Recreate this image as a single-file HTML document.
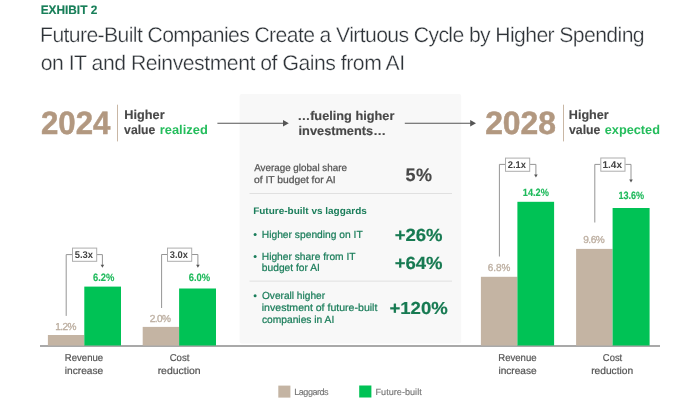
<!DOCTYPE html>
<html><head><meta charset="utf-8"><title>Exhibit 2</title>
<style>
html,body{margin:0;padding:0;background:#fff;}
body{width:700px;height:411px;overflow:hidden;}
svg{display:block;font-family:"Liberation Sans", Arial, sans-serif;text-rendering:geometricPrecision;}
</style></head>
<body>
<svg width="700" height="411" viewBox="0 0 700 411">
<rect x="239.6" y="94" width="221.6" height="249.6" fill="#f8f8f8" rx="2"/>
<line x1="117.5" y1="104.7" x2="117.5" y2="141.4" stroke="#c9b7a5" stroke-width="1"/>
<line x1="563.5" y1="104.7" x2="563.5" y2="141.4" stroke="#c9b7a5" stroke-width="1"/>
<line x1="217.4" y1="123.25" x2="283.8" y2="123.25" stroke="#555555" stroke-width="1.1"/>
<path d="M283.0,120.05 L288.8,123.25 L283.0,126.45 Z" fill="#555555"/>
<line x1="404.8" y1="123.25" x2="471" y2="123.25" stroke="#555555" stroke-width="1.1"/>
<path d="M470.2,120.05 L476,123.25 L470.2,126.45 Z" fill="#555555"/>
<line x1="249.5" y1="193.5" x2="452" y2="193.5" stroke="#e0e0e0" stroke-width="1"/>
<line x1="249.5" y1="281.1" x2="452" y2="281.1" stroke="#e0e0e0" stroke-width="1"/>
<circle cx="255.1" cy="234.6" r="1.5" fill="#1a7d5a"/>
<circle cx="255.1" cy="256.6" r="1.5" fill="#1a7d5a"/>
<circle cx="255.1" cy="295.8" r="1.5" fill="#1a7d5a"/>
<line x1="40" y1="346" x2="660" y2="346" stroke="#8c8c8c" stroke-width="1.3"/>
<rect x="47.9" y="335.0" width="36.4" height="10.5" fill="#c4b4a3"/>
<rect x="84.3" y="286.6" width="36.7" height="58.9" fill="#00c255"/>
<path d="M66.2,315.9 V254.6 H72" stroke="#959595" fill="none" stroke-width="1"/>
<path d="M97,254.6 H102.4 V265.2" stroke="#959595" fill="none" stroke-width="1"/>
<path d="M100.6,264.7 L102.4,267.7 L104.2,264.7 Z" fill="#555"/>
<rect x="72.5" y="248.1" width="24.2" height="13.2" fill="#fff" stroke="#adadad" stroke-width="1"/>
<rect x="142.7" y="326.9" width="36.4" height="18.6" fill="#c4b4a3"/>
<rect x="179.1" y="288.5" width="36.9" height="57.0" fill="#00c255"/>
<path d="M161.6,308 V254.5 H167" stroke="#959595" fill="none" stroke-width="1"/>
<path d="M192,254.5 H197.9 V265.2" stroke="#959595" fill="none" stroke-width="1"/>
<path d="M196.1,264.7 L197.9,267.7 L199.7,264.7 Z" fill="#555"/>
<rect x="167.5" y="248.1" width="24.2" height="13.2" fill="#fff" stroke="#adadad" stroke-width="1"/>
<rect x="480.9" y="276.8" width="36.5" height="68.7" fill="#c4b4a3"/>
<rect x="517.4" y="201.8" width="36.7" height="143.7" fill="#00c255"/>
<path d="M499.4,256.5 V164.4 H505" stroke="#959595" fill="none" stroke-width="1"/>
<path d="M530,164.4 H535.9 V174.9" stroke="#959595" fill="none" stroke-width="1"/>
<path d="M534.1,174.4 L535.9,177.4 L537.7,174.4 Z" fill="#555"/>
<rect x="505.5" y="158.1" width="24.2" height="13.2" fill="#fff" stroke="#adadad" stroke-width="1"/>
<rect x="576.1" y="248.9" width="36.5" height="96.6" fill="#c4b4a3"/>
<rect x="612.6" y="208.0" width="37.0" height="137.5" fill="#00c255"/>
<path d="M594.8,222.5 V164.4 H600.3" stroke="#959595" fill="none" stroke-width="1"/>
<path d="M625.3,164.4 H631.0 V179.9" stroke="#959595" fill="none" stroke-width="1"/>
<path d="M629.2,179.4 L631.0,182.4 L632.8,179.4 Z" fill="#555"/>
<rect x="600.8" y="158.0" width="24.2" height="13.2" fill="#fff" stroke="#adadad" stroke-width="1"/>
<rect x="278.3" y="385.6" width="12.1" height="12" fill="#c4b4a3"/>
<rect x="359.2" y="385.5" width="12.2" height="12" fill="#00c255"/>
<text id="exh" x="40.65" y="13.9" font-size="12.2" font-weight="700" fill="#187f59" textLength="56.63" lengthAdjust="spacingAndGlyphs" stroke="#187f59" stroke-width="0.15">EXHIBIT 2</text>
<text id="t1" x="40.06" y="41.7" font-size="21.2" font-weight="400" fill="#2e3338" textLength="604.55" lengthAdjust="spacing" stroke="#ffffff" stroke-width="0.3">Future-Built Companies Create a Virtuous Cycle by Higher Spending</text>
<text id="t2" x="40.65" y="70.0" font-size="21.2" font-weight="400" fill="#2e3338" textLength="364.46" lengthAdjust="spacing" stroke="#ffffff" stroke-width="0.3">on IT and Reinvestment of Gains from AI</text>
<text id="y24" x="40.95" y="134.05" font-size="32.4" font-weight="700" fill="#b29880" textLength="69.42" lengthAdjust="spacingAndGlyphs" stroke="#b29880" stroke-width="0.5">2024</text>
<text id="h1" x="124.35" y="119.2" font-size="12.7" font-weight="700" fill="#484848" textLength="40.26" lengthAdjust="spacingAndGlyphs" stroke="#484848" stroke-width="0.15">Higher</text>
<text id="v1" x="124.10" y="134.3" font-size="12.7" font-weight="700" fill="#484848" textLength="31.21" lengthAdjust="spacingAndGlyphs" stroke="#484848" stroke-width="0.15">value</text>
<text id="r1" x="159.75" y="134.3" font-size="12.7" font-weight="700" fill="#24bd5c" textLength="48.00" lengthAdjust="spacingAndGlyphs">realized</text>
<text id="y28" x="485.15" y="134.05" font-size="32.4" font-weight="700" fill="#b29880" textLength="70.90" lengthAdjust="spacingAndGlyphs" stroke="#b29880" stroke-width="0.5">2028</text>
<text id="h2" x="568.85" y="119.2" font-size="12.7" font-weight="700" fill="#484848" textLength="39.86" lengthAdjust="spacingAndGlyphs" stroke="#484848" stroke-width="0.15">Higher</text>
<text id="v2" x="569.00" y="134.3" font-size="12.7" font-weight="700" fill="#484848" textLength="31.41" lengthAdjust="spacingAndGlyphs" stroke="#484848" stroke-width="0.15">value</text>
<text id="e2" x="604.69" y="134.3" font-size="12.7" font-weight="700" fill="#24bd5c" textLength="55.32" lengthAdjust="spacingAndGlyphs">expected</text>
<text id="f1" x="297.40" y="119.5" font-size="12.5" font-weight="700" fill="#484848" textLength="96.96" lengthAdjust="spacingAndGlyphs" stroke="#484848" stroke-width="0.15">…fueling higher</text>
<text id="f2" x="298.55" y="134.5" font-size="12.5" font-weight="700" fill="#484848" textLength="87.40" lengthAdjust="spacingAndGlyphs" stroke="#484848" stroke-width="0.15">investments…</text>
<text id="a1" x="254.19" y="171.3" font-size="9.9" font-weight="400" fill="#555555" textLength="92.74" lengthAdjust="spacingAndGlyphs" stroke="#555555" stroke-width="0.25">Average global share</text>
<text id="a2" x="253.94" y="183.2" font-size="9.9" font-weight="400" fill="#555555" textLength="81.73" lengthAdjust="spacingAndGlyphs" stroke="#555555" stroke-width="0.25">of IT budget for AI</text>
<text id="p5" x="405.45" y="180.9" font-size="18.0" font-weight="700" fill="#484848" textLength="26.64" lengthAdjust="spacing" stroke="#484848" stroke-width="0.15">5%</text>
<text id="fb" x="253.15" y="214.0" font-size="9.6" font-weight="700" fill="#1a7d5a" textLength="113.77" lengthAdjust="spacingAndGlyphs">Future-built vs laggards</text>
<text id="b1" x="261.75" y="237.7" font-size="10.3" font-weight="400" fill="#1a7d5a" textLength="100.99" lengthAdjust="spacingAndGlyphs" stroke="#1a7d5a" stroke-width="0.22">Higher spending on IT</text>
<text id="n1" x="394.70" y="240.6" font-size="17.6" font-weight="700" fill="#177a52" textLength="47.88" lengthAdjust="spacingAndGlyphs" stroke="#177a52" stroke-width="0.2">+26%</text>
<text id="b2a" x="261.75" y="259.8" font-size="10.3" font-weight="400" fill="#1a7d5a" textLength="93.83" lengthAdjust="spacingAndGlyphs" stroke="#1a7d5a" stroke-width="0.22">Higher share from IT</text>
<text id="b2b" x="261.85" y="271.3" font-size="10.3" font-weight="400" fill="#1a7d5a" textLength="57.98" lengthAdjust="spacingAndGlyphs" stroke="#1a7d5a" stroke-width="0.22">budget for AI</text>
<text id="n2" x="394.70" y="268.5" font-size="17.6" font-weight="700" fill="#177a52" textLength="47.88" lengthAdjust="spacingAndGlyphs" stroke="#177a52" stroke-width="0.2">+64%</text>
<text id="b3a" x="261.94" y="299.0" font-size="10.3" font-weight="400" fill="#1a7d5a" textLength="63.12" lengthAdjust="spacingAndGlyphs" stroke="#1a7d5a" stroke-width="0.22">Overall higher</text>
<text id="b3b" x="261.77" y="311.4" font-size="10.3" font-weight="400" fill="#1a7d5a" textLength="115.61" lengthAdjust="spacingAndGlyphs" stroke="#1a7d5a" stroke-width="0.22">investment of future-built</text>
<text id="b3c" x="261.94" y="323.2" font-size="10.3" font-weight="400" fill="#1a7d5a" textLength="72.31" lengthAdjust="spacingAndGlyphs" stroke="#1a7d5a" stroke-width="0.22">companies in AI</text>
<text id="n3" x="389.44" y="314.4" font-size="17.4" font-weight="700" fill="#177a52" textLength="58.30" lengthAdjust="spacingAndGlyphs" stroke="#177a52" stroke-width="0.2">+120%</text>
<text id="l1t" x="55.19" y="330.4" font-size="10.1" font-weight="400" fill="#bcaea0" textLength="21.32" lengthAdjust="spacing" stroke="#bcaea0" stroke-width="0.3">1.2%</text>
<text id="l1g" x="92.94" y="280.9" font-size="10.6" font-weight="700" fill="#1fba5c" textLength="21.43" lengthAdjust="spacingAndGlyphs" stroke="#1fba5c" stroke-width="0.15">6.2%</text>
<text id="l2t" x="149.70" y="321.6" font-size="10.1" font-weight="400" fill="#bcaea0" textLength="21.34" lengthAdjust="spacing" stroke="#bcaea0" stroke-width="0.3">2.0%</text>
<text id="l2g" x="188.77" y="281.3" font-size="10.6" font-weight="700" fill="#1fba5c" textLength="21.45" lengthAdjust="spacingAndGlyphs" stroke="#1fba5c" stroke-width="0.15">6.0%</text>
<text id="l3t" x="487.70" y="271.2" font-size="10.1" font-weight="400" fill="#bcaea0" textLength="22.68" lengthAdjust="spacingAndGlyphs" stroke="#bcaea0" stroke-width="0.3">6.8%</text>
<text id="l3g" x="522.78" y="195.7" font-size="10.6" font-weight="700" fill="#1fba5c" textLength="26.07" lengthAdjust="spacingAndGlyphs" stroke="#1fba5c" stroke-width="0.15">14.2%</text>
<text id="l4t" x="583.15" y="243.2" font-size="10.1" font-weight="400" fill="#bcaea0" textLength="21.66" lengthAdjust="spacing" stroke="#bcaea0" stroke-width="0.3">9.6%</text>
<text id="l4g" x="618.44" y="199.4" font-size="10.6" font-weight="700" fill="#1fba5c" textLength="25.74" lengthAdjust="spacingAndGlyphs" stroke="#1fba5c" stroke-width="0.15">13.6%</text>
<text id="m1" x="74.70" y="258.3" font-size="9.8" font-weight="700" fill="#444444" textLength="18.36" lengthAdjust="spacingAndGlyphs">5.3x</text>
<text id="m2" x="169.86" y="258.3" font-size="9.8" font-weight="700" fill="#444444" textLength="18.13" lengthAdjust="spacingAndGlyphs">3.0x</text>
<text id="m3" x="507.70" y="167.8" font-size="9.8" font-weight="700" fill="#444444" textLength="18.30" lengthAdjust="spacingAndGlyphs">2.1x</text>
<text id="m4" x="602.45" y="168.0" font-size="9.8" font-weight="700" fill="#444444" textLength="19.61" lengthAdjust="spacingAndGlyphs">1.4x</text>
<text id="c1a" x="64.85" y="360.9" font-size="10.0" font-weight="400" fill="#555555" textLength="38.31" lengthAdjust="spacingAndGlyphs" stroke="#555555" stroke-width="0.2">Revenue</text>
<text id="c1b" x="64.75" y="373.6" font-size="10.0" font-weight="400" fill="#555555" textLength="38.52" lengthAdjust="spacingAndGlyphs" stroke="#555555" stroke-width="0.2">increase</text>
<text id="c2a" x="169.69" y="360.9" font-size="10.0" font-weight="400" fill="#555555" textLength="19.72" lengthAdjust="spacingAndGlyphs" stroke="#555555" stroke-width="0.2">Cost</text>
<text id="c2b" x="157.65" y="373.6" font-size="10.0" font-weight="400" fill="#555555" textLength="43.02" lengthAdjust="spacingAndGlyphs" stroke="#555555" stroke-width="0.2">reduction</text>
<text id="c3a" x="498.25" y="360.9" font-size="10.0" font-weight="400" fill="#555555" textLength="38.31" lengthAdjust="spacingAndGlyphs" stroke="#555555" stroke-width="0.2">Revenue</text>
<text id="c3b" x="498.45" y="373.6" font-size="10.0" font-weight="400" fill="#555555" textLength="38.22" lengthAdjust="spacingAndGlyphs" stroke="#555555" stroke-width="0.2">increase</text>
<text id="c4a" x="602.86" y="360.9" font-size="10.0" font-weight="400" fill="#555555" textLength="19.38" lengthAdjust="spacingAndGlyphs" stroke="#555555" stroke-width="0.2">Cost</text>
<text id="c4b" x="591.15" y="373.6" font-size="10.0" font-weight="400" fill="#555555" textLength="42.08" lengthAdjust="spacingAndGlyphs" stroke="#555555" stroke-width="0.2">reduction</text>
<text id="lg1" x="294.25" y="394.7" font-size="9.1" font-weight="400" fill="#777777" textLength="34.40" lengthAdjust="spacing" stroke="#777777" stroke-width="0.15">Laggards</text>
<text id="lg2" x="375.55" y="394.9" font-size="9.1" font-weight="400" fill="#777777" textLength="46.15" lengthAdjust="spacingAndGlyphs" stroke="#777777" stroke-width="0.15">Future-built</text>
</svg>
</body></html>
